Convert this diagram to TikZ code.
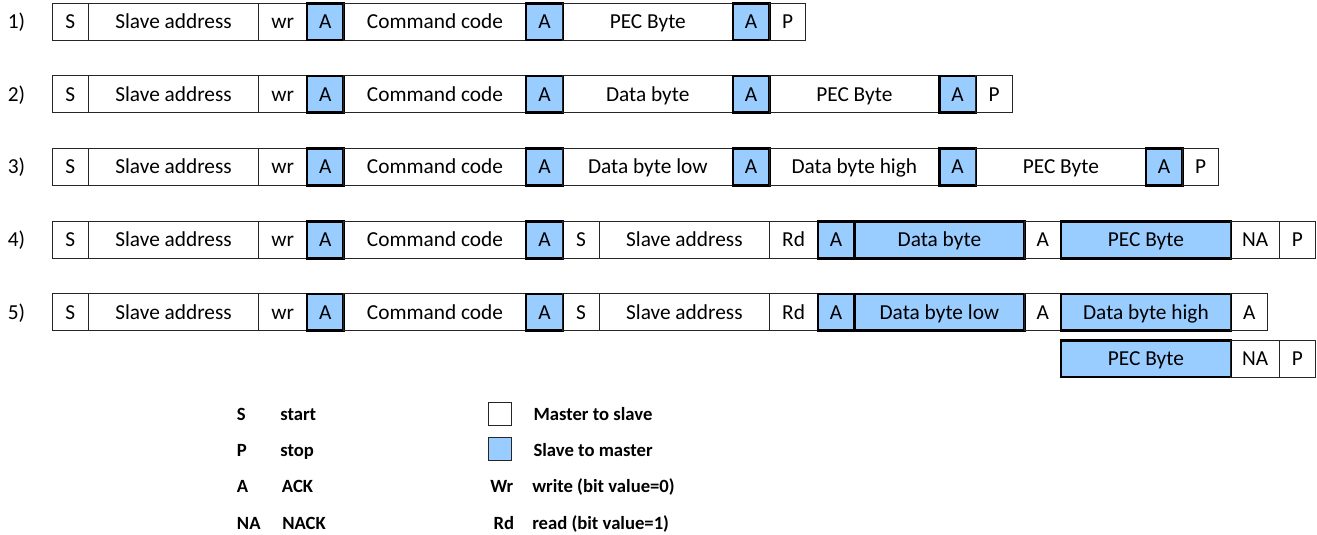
\documentclass[tikz,border=0pt]{standalone}
\usepackage{fontspec}
\setmainfont{Carlito}
\usetikzlibrary{positioning,calc}
\definecolor{slaveblue}{HTML}{99CCFF}
\tikzset{
  fld/.style={draw=black!85, line width=0.75pt, minimum height=27.5pt,
    inner sep=0pt, outer sep=0pt, text height=10.3pt, text depth=0pt,
    font=\fontsize{16}{19}\selectfont},
  sfld/.style={fld, fill=slaveblue, draw=black, line width=1.8pt},
  bit/.style={minimum width=27.4pt},
  wide/.style={minimum width=127.5pt},
  rwbit/.style={minimum width=36.4pt},
  cmd/.style={minimum width=137pt},
  nak/.style={minimum width=36.2pt},
  lbl/.style={text height=10.3pt, text depth=0pt, inner sep=0pt,
    font=\fontsize{16}{19}\selectfont},
  key/.style={anchor=base west, inner sep=0pt,
    font=\bfseries\fontsize{14}{17}\selectfont},
}
\begin{document}
\begin{tikzpicture}[x=0.75pt,y=-0.75pt]
  \useasboundingbox (0,0) rectangle (1317,535);
  % common head of every frame
  \foreach \r/\y in {1/21.7,2/94.3,3/167,4/240,5/312.3}{
    \node[lbl] (n\r) at (16.5,\y) {\r)};
    \node[fld,bit,anchor=west] (s\r) at (52,\y) {S};
    \node[fld,wide,right=0pt of s\r] (ad\r) {Slave address};
    \node[fld,rwbit,right=0pt of ad\r] (wr\r) {wr};
    \node[sfld,bit,right=0pt of wr\r] (ka\r) {A};
    \node[fld,cmd,right=0pt of ka\r] (cc\r) {Command code};
    \node[sfld,bit,right=0pt of cc\r] (kb\r) {A};
  }
  % 1)
  \node[fld,wide,right=0pt of kb1] (pec1) {PEC Byte};
  \node[sfld,bit,right=0pt of pec1] (kc1) {A};
  \node[fld,bit,right=0pt of kc1] (p1) {P};
  % 2)
  \node[fld,wide,right=0pt of kb2] (db2) {Data byte};
  \node[sfld,bit,right=0pt of db2] (kc2) {A};
  \node[fld,wide,right=0pt of kc2] (pec2) {PEC Byte};
  \node[sfld,bit,right=0pt of pec2] (kd2) {A};
  \node[fld,bit,right=0pt of kd2] (p2) {P};
  % 3)
  \node[fld,wide,right=0pt of kb3] (dl3) {Data byte low};
  \node[sfld,bit,right=0pt of dl3] (kc3) {A};
  \node[fld,wide,right=0pt of kc3] (dh3) {Data byte high};
  \node[sfld,bit,right=0pt of dh3] (kd3) {A};
  \node[fld,wide,right=0pt of kd3] (pec3) {PEC Byte};
  \node[sfld,bit,right=0pt of pec3] (ke3) {A};
  \node[fld,bit,right=0pt of ke3] (p3) {P};
  % 4)
  \node[fld,bit,right=0pt of kb4] (sr4) {S};
  \node[fld,wide,right=0pt of sr4] (ar4) {Slave address};
  \node[fld,rwbit,right=0pt of ar4] (rd4) {Rd};
  \node[sfld,bit,right=0pt of rd4] (kc4) {A};
  \node[sfld,wide,right=0pt of kc4] (db4) {Data byte};
  \node[fld,bit,right=0pt of db4] (kd4) {A};
  \node[sfld,wide,right=0pt of kd4] (pec4) {PEC Byte};
  \node[fld,nak,right=0pt of pec4] (na4) {NA};
  \node[fld,bit,right=0pt of na4] (p4) {P};
  % 5)
  \node[fld,bit,right=0pt of kb5] (sr5) {S};
  \node[fld,wide,right=0pt of sr5] (ar5) {Slave address};
  \node[fld,rwbit,right=0pt of ar5] (rd5) {Rd};
  \node[sfld,bit,right=0pt of rd5] (kc5) {A};
  \node[sfld,wide,right=0pt of kc5] (dl5) {Data byte low};
  \node[fld,bit,right=0pt of dl5] (kd5) {A};
  \node[sfld,wide,right=0pt of kd5] (dh5) {Data byte high};
  \node[fld,bit,right=0pt of dh5] (ke5) {A};
  \node[sfld,wide,anchor=west] (pec5) at ($(dh5.west)+(0,46.4)$) {PEC Byte};
  \node[fld,nak,right=0pt of pec5] (na5) {NA};
  \node[fld,bit,right=0pt of na5] (p5) {P};
  % legend
  \node[key] (ls) at (236.7,420) {S};
  \node[key] (lst) at (280,420) {start};
  \node[key] (lp) at (236.7,456.3) {P};
  \node[key] (lsp) at (280,456.3) {stop};
  \node[key] (la) at (236.7,492.6) {A};
  \node[key] (lack) at (281.7,492.6) {ACK};
  \node[key] (lna) at (236.7,529) {NA};
  \node[key] (lnack) at (282,529) {NACK};
  \node[fld,minimum width=16.7pt,minimum height=17pt] (lm) at (500,414.3) {};
  \node[fld,fill=slaveblue,minimum width=16.7pt,minimum height=17pt] (lsl) at (500,449.3) {};
  \node[key] (lmt) at (533.3,420) {Master to slave};
  \node[key] (lslt) at (533.3,456.3) {Slave to master};
  \node[key] (lwr) at (490,492.6) {Wr};
  \node[key] (lwrt) at (532,492.6) {write (bit value=0)};
  \node[key] (lrd) at (493.3,529) {Rd};
  \node[key] (lrdt) at (532,529) {read (bit value=1)};
\end{tikzpicture}
\end{document}
